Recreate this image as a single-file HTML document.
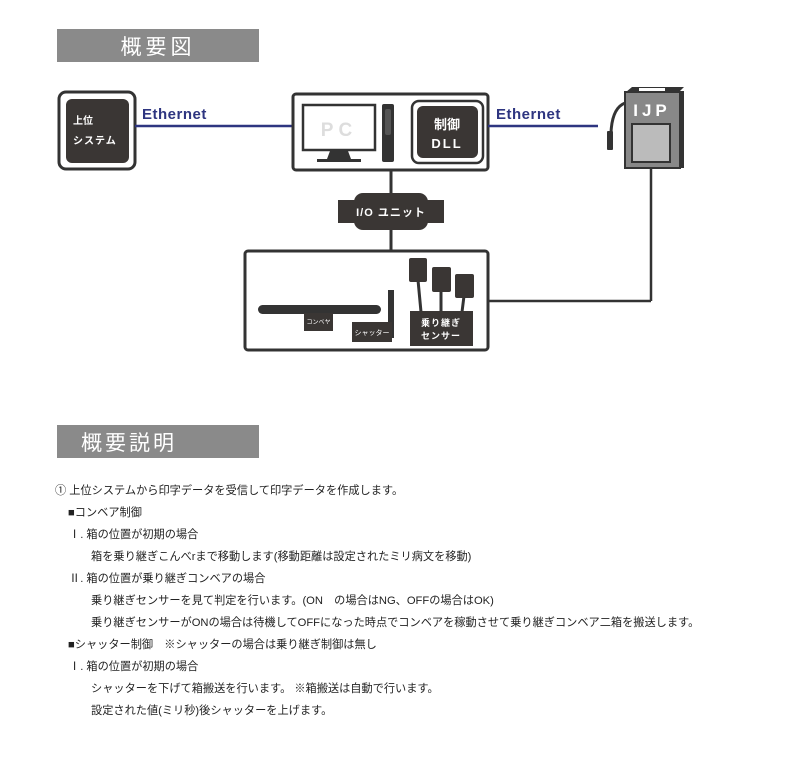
<!DOCTYPE html>
<html><head><meta charset="utf-8"><style>
body{margin:0;background:#fff;width:800px;height:770px;overflow:hidden;}
svg{position:absolute;left:0;top:0}
.t{position:absolute;font-family:"Liberation Sans","Noto Sans CJK JP",sans-serif;font-size:11.2px;color:#222;white-space:nowrap;line-height:14px}
</style></head><body>
<svg width="800" height="770" xmlns="http://www.w3.org/2000/svg" font-family="Liberation Sans, Noto Sans CJK JP, sans-serif">
<rect x="57" y="29" width="202" height="33" fill="#8a8a8a"/>
<text x="158" y="54" font-size="21" fill="#fff" text-anchor="middle" letter-spacing="4">概要図</text>
<rect x="59" y="92" width="76" height="77" rx="7" fill="#fff" stroke="#333" stroke-width="3"/>
<rect x="66" y="99" width="63" height="64" rx="6" fill="#3a3634"/>
<text x="73" y="124" font-size="10" fill="#fff" font-weight="bold">上位</text>
<text x="73" y="144" font-size="10" fill="#fff" font-weight="bold" letter-spacing="1">システム</text>
<line x1="135" y1="126" x2="293" y2="126" stroke="#2e3580" stroke-width="2.5"/>
<text x="142" y="119" font-size="15" font-weight="bold" fill="#2e3580" letter-spacing="0.5">Ethernet</text>
<rect x="293" y="94" width="195" height="76" rx="3" fill="#fff" stroke="#333" stroke-width="3"/>
<rect x="303" y="105" width="72" height="45" fill="#fff" stroke="#333" stroke-width="2.5"/>
<text x="339" y="136" font-size="19" font-weight="bold" fill="#ddd" text-anchor="middle" letter-spacing="5">PC</text>
<path d="M330 151 h18 l3 8 h10 v3 h-44 v-3 h10z" fill="#333"/>
<rect x="382" y="104" width="12" height="58" rx="2" fill="#333"/>
<rect x="385" y="109" width="6" height="26" rx="2" fill="#555"/>
<rect x="412" y="101" width="71" height="62" rx="7" fill="#fff" stroke="#333" stroke-width="2.5"/>
<rect x="417" y="106" width="61" height="52" rx="6" fill="#3a3634"/>
<text x="447" y="129" font-size="13" font-weight="bold" fill="#fff" text-anchor="middle">制御</text>
<text x="447" y="148" font-size="13" font-weight="bold" fill="#fff" text-anchor="middle" letter-spacing="2">DLL</text>
<line x1="488" y1="126" x2="598" y2="126" stroke="#2e3580" stroke-width="2.5"/>
<text x="496" y="119" font-size="15" font-weight="bold" fill="#2e3580" letter-spacing="0.5">Ethernet</text>
<path d="M626 92 l6 -5 h52 l-5 5z" fill="#333"/>
<rect x="639" y="88" width="26" height="3" fill="#fff"/>
<rect x="679" y="91" width="5" height="77" fill="#333"/>
<rect x="625" y="92" width="55" height="76" fill="#888" stroke="#333" stroke-width="2"/>
<text x="652" y="116" font-size="17" font-weight="bold" fill="#fff" text-anchor="middle" letter-spacing="4">IJP</text>
<rect x="632" y="124" width="38" height="38" fill="#bbb" stroke="#333" stroke-width="2"/>
<path d="M625 103 Q612 108 611 133" fill="none" stroke="#333" stroke-width="3"/>
<rect x="607" y="131" width="6" height="19" rx="1" fill="#333"/>
<line x1="391" y1="170" x2="391" y2="250" stroke="#333" stroke-width="3"/>
<rect x="354" y="193" width="74" height="37" rx="9" fill="#3a3634"/>
<rect x="338" y="200" width="106" height="23" fill="#3a3634"/>
<text x="391" y="216" font-size="11" font-weight="bold" fill="#fff" text-anchor="middle" letter-spacing="1">I/O ユニット</text>
<line x1="488" y1="301" x2="651" y2="301" stroke="#333" stroke-width="2.5"/>
<line x1="651" y1="301" x2="651" y2="168" stroke="#333" stroke-width="2.5"/>
<rect x="245" y="251" width="243" height="99" rx="3" fill="#fff" stroke="#333" stroke-width="3"/>
<rect x="258" y="305" width="123" height="9" rx="4.5" fill="#333"/>
<rect x="304" y="313" width="29" height="18" fill="#3a3634"/>
<text x="318.5" y="324" font-size="6" fill="#fff" text-anchor="middle">コンベヤ</text>
<rect x="388" y="290" width="6" height="48" fill="#333"/>
<rect x="352" y="322" width="40" height="20" fill="#3a3634"/>
<text x="372" y="335" font-size="7" fill="#fff" text-anchor="middle">シャッター</text>
<g stroke="#333" stroke-width="3"><line x1="418" y1="280" x2="421" y2="312"/><line x1="441" y1="290" x2="441" y2="312"/><line x1="464" y1="296" x2="462" y2="312"/></g>
<rect x="409" y="258" width="18" height="24" rx="2" fill="#3a3634"/>
<rect x="432" y="267" width="19" height="25" rx="2" fill="#3a3634"/>
<rect x="455" y="274" width="19" height="24" rx="2" fill="#3a3634"/>
<rect x="410" y="311" width="63" height="35" fill="#3a3634"/>
<text x="441" y="326" font-size="9" font-weight="bold" fill="#fff" text-anchor="middle" letter-spacing="1">乗り継ぎ</text>
<text x="441" y="339" font-size="9" font-weight="bold" fill="#fff" text-anchor="middle" letter-spacing="1">センサー</text>
<rect x="57" y="425" width="202" height="33" fill="#8a8a8a"/>
<text x="129" y="450" font-size="21" fill="#fff" text-anchor="middle" letter-spacing="3">概要説明</text>
</svg>
<div class="t" style="left:55px;top:484px">① 上位システムから印字データを受信して印字データを作成します。</div>
<div class="t" style="left:68px;top:506px">■コンベア制御</div>
<div class="t" style="left:69px;top:528px">Ⅰ. 箱の位置が初期の場合</div>
<div class="t" style="left:91px;top:550px">箱を乗り継ぎこんべrまで移動します(移動距離は設定されたミリ病文を移動)</div>
<div class="t" style="left:69px;top:572px">Ⅱ. 箱の位置が乗り継ぎコンベアの場合</div>
<div class="t" style="left:91px;top:594px">乗り継ぎセンサーを見て判定を行います。(ON　の場合はNG、OFFの場合はOK)</div>
<div class="t" style="left:91px;top:616px">乗り継ぎセンサーがONの場合は待機してOFFになった時点でコンベアを稼動させて乗り継ぎコンベア二箱を搬送します。</div>
<div class="t" style="left:68px;top:638px">■シャッター制御　※シャッターの場合は乗り継ぎ制御は無し</div>
<div class="t" style="left:69px;top:660px">Ⅰ. 箱の位置が初期の場合</div>
<div class="t" style="left:91px;top:682px">シャッターを下げて箱搬送を行います。 ※箱搬送は自動で行います。</div>
<div class="t" style="left:91px;top:704px">設定された値(ミリ秒)後シャッターを上げます。</div>
</body></html>
